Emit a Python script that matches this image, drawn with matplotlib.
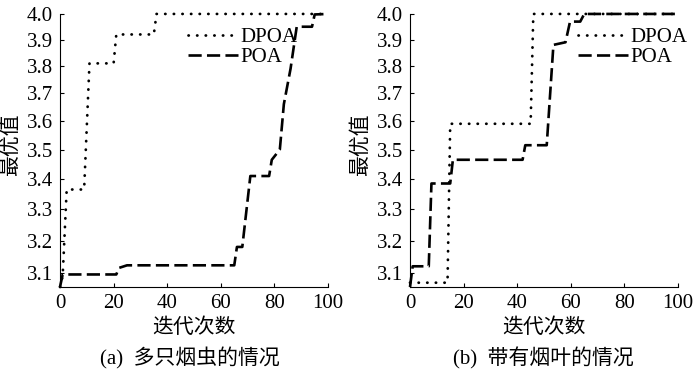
import matplotlib
matplotlib.use("Agg")
import matplotlib.pyplot as plt
from matplotlib.ticker import FixedLocator, FixedFormatter, NullLocator

plt.rcParams['font.family'] = ['Liberation Serif', 'Noto Sans CJK SC']
plt.rcParams['font.size'] = 15

# (a) many tobacco insects
a_dpoa_x = [0, 1, 2.5, 9, 11, 20, 21, 35, 36, 100]
a_dpoa_y = [3.057, 3.09, 3.365, 3.365, 3.81, 3.81, 3.92, 3.92, 4.0, 4.0]
a_poa_x = [0, 1, 21, 22, 25, 65, 66, 68, 71, 78, 79, 82, 83.5, 86, 88.3, 94, 95, 100]
a_poa_y = [3.057, 3.095, 3.095, 3.115, 3.123, 3.123, 3.18, 3.18, 3.41, 3.41,
           3.465, 3.50, 3.66, 3.79, 3.95, 3.95, 3.998, 4.0]

# (b) with tobacco leaves
b_dpoa_x = [0, 14, 15, 45, 46, 100]
b_dpoa_y = [3.07, 3.07, 3.59, 3.59, 4.0, 4.0]
b_poa_x = [0, 1, 7, 8, 15, 16, 42, 43, 51, 53.5, 58, 59.7, 63.5, 65, 99]
b_poa_y = [3.057, 3.12, 3.12, 3.385, 3.385, 3.465, 3.465, 3.515, 3.515,
           3.88, 3.89, 3.97, 3.97, 4.0, 4.0]

y_ticks = [3.1, 3.2, 3.3, 3.4, 3.5, 3.6, 3.7, 3.8, 3.9, 4.0]
x_ticks = [0, 20, 40, 60, 80, 100]
captions = ["(a)  多只烟虫的情况", "(b)  带有烟叶的情况"]
caption_x = [0.271, 0.776]
legend_pos = [(0.90, 0.965), (1.05, 0.965)]

fig = plt.figure(figsize=(7, 3.7), dpi=100)
axes = [fig.add_axes([0.0857, 0.2243, 0.383, 0.738]),
        fig.add_axes([0.5857, 0.2243, 0.383, 0.738])]

panels = [(a_dpoa_x, a_dpoa_y, a_poa_x, a_poa_y),
          (b_dpoa_x, b_dpoa_y, b_poa_x, b_poa_y)]

for i, ax in enumerate(axes):
    dx, dy, px, py = panels[i]
    ax.plot(dx, dy, color='black', lw=2.0, linestyle=(0, (0.1, 3.0)),
            dash_capstyle='round', clip_on=False, label='DPOA')
    ax.plot(px, py, color='black', lw=1.9, linestyle=(0, (5, 2)),
            clip_on=False, label='POA')

    ax.set_yscale('log')
    ax.set_xlim(0, 100)
    ax.set_ylim(3.057, 4.0)
    ax.yaxis.set_major_locator(FixedLocator(y_ticks))
    ax.yaxis.set_major_formatter(FixedFormatter([f"{t:.1f}" for t in y_ticks]))
    ax.yaxis.set_minor_locator(NullLocator())
    ax.set_xticks(x_ticks)
    ax.tick_params(direction='in', length=3, width=0.8, pad=5, labelsize=15)

    for s in ['top', 'right']:
        ax.spines[s].set_visible(False)
    for s in ['left', 'bottom']:
        ax.spines[s].set_linewidth(0.8)

    ax.set_ylabel("最优值", fontsize=15, va='center', ha='center')
    ax.yaxis.set_label_coords(-0.18, 0.52)
    ax.set_xlabel("迭代次数", fontsize=15, va='center')
    ax.xaxis.set_label_coords(0.5, -0.15)

    ax.legend(loc='upper right', bbox_to_anchor=legend_pos[i], frameon=False,
              fontsize=15, handlelength=2.4, handletextpad=0.1,
              labelspacing=0.0, borderaxespad=0.0, borderpad=0.2)

    fig.text(caption_x[i], 0.032, captions[i], ha='center', va='center', fontsize=15)

fig.savefig("out.png", dpi=100)
